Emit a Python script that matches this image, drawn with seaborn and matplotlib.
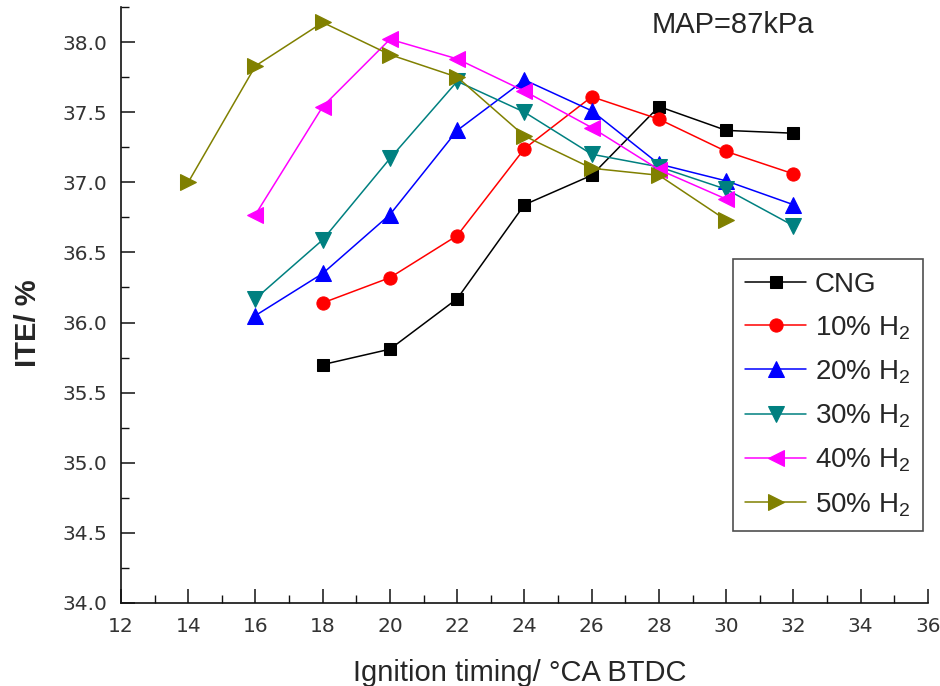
import matplotlib
matplotlib.use("Agg")
import matplotlib.pyplot as plt
from matplotlib.ticker import MultipleLocator
import seaborn as sns
import pandas as pd

# Ignition timing (°CA BTDC) for each fuel blend
timing_cng = [18, 20, 22, 24, 26, 28, 30, 32]
timing_h10 = [18, 20, 22, 24, 26, 28, 30, 32]
timing_h20 = [16, 18, 20, 22, 24, 26, 28, 30, 32]
timing_h30 = [16, 18, 20, 22, 24, 26, 28, 30, 32]
timing_h40 = [16, 18, 20, 22, 24, 26, 28, 30]
timing_h50 = [14, 16, 18, 20, 22, 24, 26, 28, 30]

# Indicated thermal efficiency (%)
ite_cng = [35.70, 35.81, 36.17, 36.84, 37.05, 37.54, 37.37, 37.35]
ite_h10 = [36.14, 36.32, 36.62, 37.24, 37.61, 37.45, 37.22, 37.06]
ite_h20 = [36.05, 36.35, 36.77, 37.37, 37.73, 37.51, 37.13, 37.01, 36.84]
ite_h30 = [36.17, 36.59, 37.17, 37.72, 37.50, 37.20, 37.11, 36.95, 36.69]
ite_h40 = [36.77, 37.54, 38.02, 37.88, 37.65, 37.39, 37.09, 36.88]
ite_h50 = [37.00, 37.83, 38.14, 37.91, 37.75, 37.33, 37.10, 37.05, 36.73]

labels = ["CNG", "10% H$_2$", "20% H$_2$", "30% H$_2$", "40% H$_2$", "50% H$_2$"]
colors = ["#000000", "#FF0000", "#0000FF", "#008080", "#FF00FF", "#808000"]
markers = ["s", "o", "^", "v", "<", ">"]
msizes = [8.5, 9.5, 11, 11, 11, 11]

series = [
    (timing_cng, ite_cng), (timing_h10, ite_h10), (timing_h20, ite_h20),
    (timing_h30, ite_h30), (timing_h40, ite_h40), (timing_h50, ite_h50),
]

sns.set_style("white")
plt.rcParams["font.family"] = ["Liberation Sans", "DejaVu Sans"]
plt.rcParams["mathtext.fontset"] = "custom"
plt.rcParams["mathtext.rm"] = "Liberation Sans"

fig = plt.figure(figsize=(9.4, 6.86), dpi=100)
ax = fig.add_axes([0.1287, 0.121, 0.8585, 0.8688])

for (xs, ys), lab, col, mk, ms in zip(series, labels, colors, markers, msizes):
    df = pd.DataFrame({"timing": xs, "ite": ys})
    sns.lineplot(data=df, x="timing", y="ite", ax=ax, color=col, marker=mk,
                 markersize=ms, markeredgecolor=col, markerfacecolor=col,
                 linewidth=1.1, label=lab)

ax.set_xlim(12, 36)
ax.set_ylim(34.0, 38.25)
ax.xaxis.set_major_locator(MultipleLocator(2))
ax.xaxis.set_minor_locator(MultipleLocator(1))
ax.yaxis.set_major_locator(MultipleLocator(0.5))
ax.yaxis.set_minor_locator(MultipleLocator(0.25))
ax.set_yticklabels([f"{v:.1f}" for v in ax.get_yticks()])

for side in ("top", "right"):
    ax.spines[side].set_visible(False)
for side in ("left", "bottom"):
    ax.spines[side].set_color("#111111")
    ax.spines[side].set_linewidth(1.2)

ax.tick_params(which="major", direction="in", length=10, width=1.1,
               labelsize=14.5, colors="#111111", pad=10, left=True, bottom=True)
ax.tick_params(which="minor", direction="in", length=5.5, width=1.0,
               colors="#111111", left=True, bottom=True)
for t in ax.get_xticklabels() + ax.get_yticklabels():
    t.set_color("#333333")
    t.set_family("DejaVu Sans")

ax.set_xlabel("Ignition timing/ °CA BTDC", fontsize=21, va="top")
ax.xaxis.set_label_coords(0.494, -0.094)
ax.set_ylabel("ITE/ %", fontsize=21, fontweight="bold", ha="center", va="center")
ax.yaxis.set_label_coords(-0.115, 0.470)

ax.text(0.657, 0.970, "MAP=87kPa", transform=ax.transAxes, fontsize=21,
        ha="left", va="center")

leg = ax.legend(loc="upper left", bbox_to_anchor=(0.758, 0.577),
                fontsize=20, frameon=True, fancybox=False, handlelength=2.2,
                labelspacing=0.59, borderpad=0.45, handletextpad=0.3,
                borderaxespad=0)
leg.get_frame().set_edgecolor("#222222")
leg.get_frame().set_linewidth(1.2)

fig.savefig("out.png", dpi=100)
